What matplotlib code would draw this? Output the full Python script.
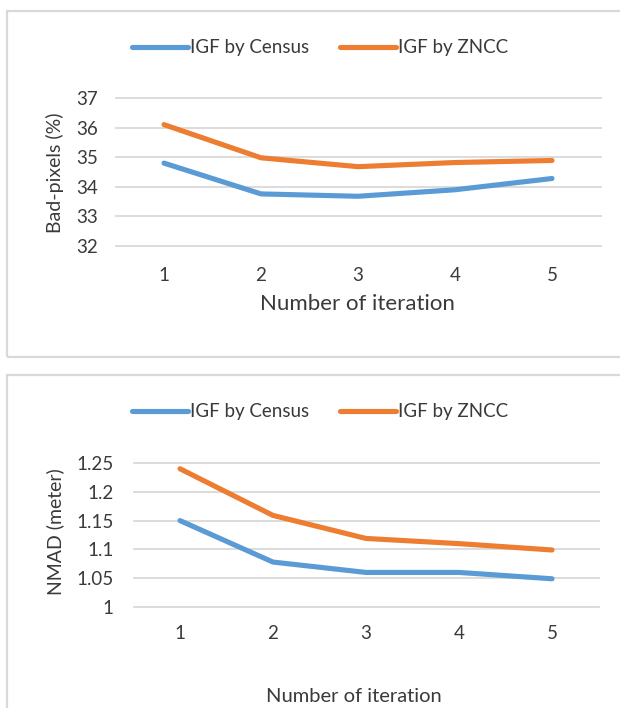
import matplotlib
matplotlib.use("Agg")
import matplotlib.pyplot as plt
from matplotlib.patches import Rectangle

plt.rcParams['font.family'] = ['Lato', 'DejaVu Sans']

# data
iterations = [1, 2, 3, 4, 5]
series_names = ['IGF by Census', 'IGF by ZNCC']
badpix_census = [34.8, 33.76, 33.68, 33.9, 34.28]
badpix_zncc = [36.1, 34.98, 34.68, 34.82, 34.89]
nmad_census = [1.15, 1.078, 1.06, 1.06, 1.049]
nmad_zncc = [1.24, 1.159, 1.119, 1.11, 1.099]
badpix_ticks = [32, 33, 34, 35, 36, 37]
nmad_ticks = [1, 1.05, 1.1, 1.15, 1.2, 1.25]
nmad_ticklabels = ['1', '1.05', '1.1', '1.15', '1.2', '1.25']

BLUE = '#5B9BD5'
ORANGE = '#ED7D31'
GRID = '#D9D9D9'
TXT = '#3A3A3A'

W, H = 620, 708
fig = plt.figure(figsize=(W / 100, H / 100), dpi=100)


def px_rect(x0, y0, x1, y1):
    """pixel box (top-left origin) -> figure fraction rect"""
    return [x0 / W, 1 - y1 / H, (x1 - x0) / W, (y1 - y0) / H]


def draw_panel(rect, census, zncc, yticks, yticklabels, ylabel, ylab_xy,
               xlab_xy, xlab_size, legend_y, xpad, ypad):
    ax = fig.add_axes(px_rect(*rect))
    ax.plot(iterations, census, color=BLUE, lw=3.7, solid_capstyle='round',
            solid_joinstyle='round', label=series_names[0], zorder=3)
    ax.plot(iterations, zncc, color=ORANGE, lw=3.7, solid_capstyle='round',
            solid_joinstyle='round', label=series_names[1], zorder=3)
    ax.set_xlim(0.5, 5.5)
    ax.set_ylim(yticks[0], yticks[-1])
    ax.set_xticks(iterations)
    ax.set_yticks(yticks)
    ax.set_yticklabels(yticklabels)
    ax.tick_params(axis='both', length=0, labelsize=13.5, labelcolor=TXT)
    ax.tick_params(axis='x', pad=xpad)
    ax.tick_params(axis='y', pad=ypad)
    for s in ax.spines.values():
        s.set_visible(False)
    ax.grid(axis='y', color=GRID, lw=1.3)
    ax.set_axisbelow(True)
    for gl in ax.get_ygridlines():
        gl.set_clip_on(False)

    fig.text(ylab_xy[0] / W, 1 - ylab_xy[1] / H, ylabel, rotation=90,
             ha='center', va='center', fontsize=14, color=TXT)
    fig.text(xlab_xy[0] / W, 1 - xlab_xy[1] / H, 'Number of iteration',
             ha='center', va='center', fontsize=xlab_size, color=TXT)

    ax.legend(loc='center', bbox_to_anchor=(320 / W, 1 - legend_y / H),
              bbox_transform=fig.transFigure, ncol=2, frameon=False,
              fontsize=13.5, handlelength=3.0, handletextpad=0.12,
              columnspacing=1.6, borderpad=0, labelcolor=TXT)
    return ax


# chart frames
fig.patches.append(Rectangle((7 / W, 1 - 357 / H), 700 / W, 346 / H,
                             transform=fig.transFigure, fill=False,
                             ec=GRID, lw=1.6))
fig.patches.append(Rectangle((7 / W, 1 - 740 / H), 700 / W, 365 / H,
                             transform=fig.transFigure, fill=False,
                             ec=GRID, lw=1.6))

draw_panel((115.5, 98, 600.5, 246), badpix_census, badpix_zncc,
           badpix_ticks, [str(t) for t in badpix_ticks], 'Bad-pixels (%)',
           (55, 173), (357, 304), 16, 48, 15, 12.5)

draw_panel((133.5, 463, 598.5, 607), nmad_census, nmad_zncc,
           nmad_ticks, nmad_ticklabels, 'NMAD (meter)',
           (55, 532), (354, 696), 14.5, 412, 13, 14.5)

fig.savefig('out.png', dpi=100)
